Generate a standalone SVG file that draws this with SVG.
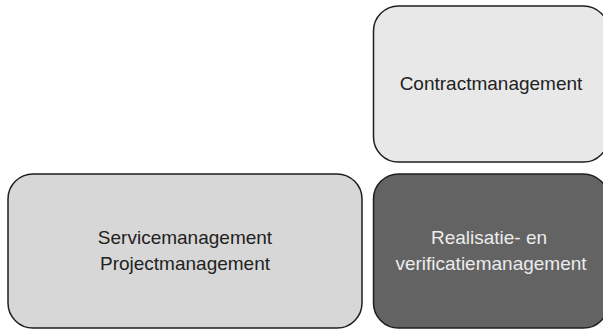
<svg xmlns="http://www.w3.org/2000/svg" width="603" height="331" viewBox="0 0 603 331">
<style>
.box{stroke:#1e1e1e;stroke-width:1.5}
.t{font-family:"Liberation Sans",Arial,sans-serif;font-size:19px;text-anchor:middle}
.dark{fill:#222}
.light{fill:#ececec}
</style>
<rect width="603" height="331" fill="#fff"/>
<g id="contractmanagement">
<rect class="box" x="373.5" y="6" width="235" height="156" rx="25" ry="25" fill="#e8e8e8"/>
<text class="t dark" x="491" y="90">Contractmanagement</text>
</g>
<g id="service-projectmanagement">
<rect class="box" x="8" y="174" width="354" height="154" rx="25" ry="25" fill="#d7d7d7"/>
<text class="t dark" x="185" y="244">Servicemanagement</text>
<text class="t dark" x="185" y="270">Projectmanagement</text>
</g>
<g id="realisatie-verificatiemanagement">
<rect class="box" x="373.5" y="174" width="235" height="154" rx="25" ry="25" fill="#636363"/>
<text class="t light" x="489" y="244">Realisatie- en</text>
<text class="t light" x="491" y="270">verificatiemanagement</text>
</g>
<g id="connectors"/>
</svg>
